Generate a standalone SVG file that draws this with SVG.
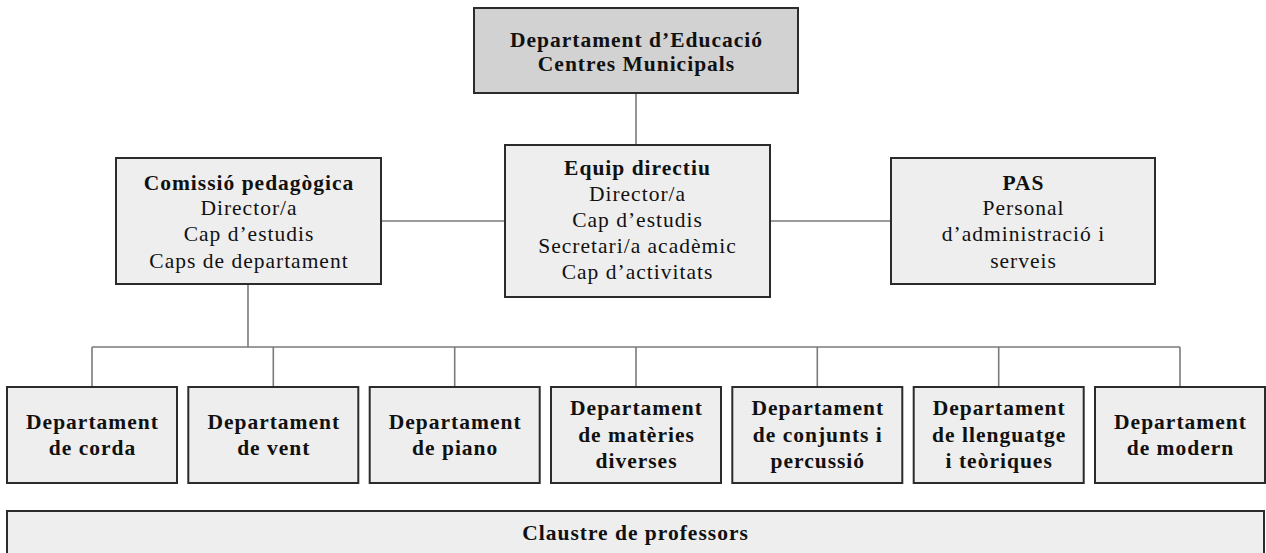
<svg xmlns="http://www.w3.org/2000/svg" width="1266" height="553" viewBox="0 0 1266 553">
<style>
.box{fill:#eeeeee;stroke:#2b2b2b;stroke-width:2}
.top{fill:#d2d2d2;stroke:#2b2b2b;stroke-width:2}
.t{font-family:"Liberation Serif","Times New Roman",serif;font-size:21.5px;letter-spacing:1px;fill:#111;text-anchor:middle}
.b{font-weight:bold}
.conn line{stroke:#7a7a7a;stroke-width:1.6}
</style>
<rect width="1266" height="553" fill="#fff"/>
<g class="conn" id="connectors">
<line x1="636" y1="93" x2="636" y2="145"/>
<line x1="381" y1="221" x2="505" y2="221"/>
<line x1="770" y1="221" x2="891" y2="221"/>
<line x1="248" y1="284" x2="248" y2="347"/>
<line x1="92" y1="347" x2="1180" y2="347"/>
<line x1="92" y1="347" x2="92" y2="387"/>
<line x1="273.3" y1="347" x2="273.3" y2="387"/>
<line x1="454.7" y1="347" x2="454.7" y2="387"/>
<line x1="636" y1="347" x2="636" y2="387"/>
<line x1="817.3" y1="347" x2="817.3" y2="387"/>
<line x1="998.7" y1="347" x2="998.7" y2="387"/>
<line x1="1180" y1="347" x2="1180" y2="387"/>
</g>
<g id="educacio">
<rect class="top" x="474" y="8" width="324" height="85"/>
<text class="t b" x="636.5" y="47">Departament d’Educació</text>
<text class="t b" x="636.5" y="71">Centres Municipals</text>
</g>
<g id="comissio">
<rect class="box" x="116" y="158" width="265" height="126"/>
<text class="t b" x="249" y="190">Comissió pedagògica</text>
<text class="t" x="249" y="215">Director/a</text>
<text class="t" x="249" y="241">Cap d’estudis</text>
<text class="t" x="249" y="268">Caps de departament</text>
</g>
<g id="equip">
<rect class="box" x="505" y="145" width="265" height="152"/>
<text class="t b" x="637.5" y="175">Equip directiu</text>
<text class="t" x="637.5" y="201">Director/a</text>
<text class="t" x="637.5" y="227">Cap d’estudis</text>
<text class="t" x="637.5" y="253">Secretari/a acadèmic</text>
<text class="t" x="637.5" y="279">Cap d’activitats</text>
</g>
<g id="pas">
<rect class="box" x="891" y="158" width="264" height="126"/>
<text class="t b" x="1023.5" y="190">PAS</text>
<text class="t" x="1023.5" y="215">Personal</text>
<text class="t" x="1023.5" y="241">d’administració i</text>
<text class="t" x="1023.5" y="268">serveis</text>
</g>
<g id="corda">
<rect class="box" x="7" y="387" width="170" height="96"/>
<text class="t b" x="92.5" y="429">Departament</text>
<text class="t b" x="92.5" y="455">de corda</text>
</g>
<g id="vent">
<rect class="box" x="188.3" y="387" width="170" height="96"/>
<text class="t b" x="273.8" y="429">Departament</text>
<text class="t b" x="273.8" y="455">de vent</text>
</g>
<g id="piano">
<rect class="box" x="369.7" y="387" width="170" height="96"/>
<text class="t b" x="455.2" y="429">Departament</text>
<text class="t b" x="455.2" y="455">de piano</text>
</g>
<g id="materies">
<rect class="box" x="551" y="387" width="170" height="96"/>
<text class="t b" x="636.5" y="415">Departament</text>
<text class="t b" x="636.5" y="442">de matèries</text>
<text class="t b" x="636.5" y="468">diverses</text>
</g>
<g id="conjunts">
<rect class="box" x="732.3" y="387" width="170" height="96"/>
<text class="t b" x="817.8" y="415">Departament</text>
<text class="t b" x="817.8" y="442">de conjunts i</text>
<text class="t b" x="817.8" y="468">percussió</text>
</g>
<g id="llenguatge">
<rect class="box" x="913.7" y="387" width="170" height="96"/>
<text class="t b" x="999.2" y="415">Departament</text>
<text class="t b" x="999.2" y="442">de llenguatge</text>
<text class="t b" x="999.2" y="468">i teòriques</text>
</g>
<g id="modern">
<rect class="box" x="1095" y="387" width="170" height="96"/>
<text class="t b" x="1180.5" y="429">Departament</text>
<text class="t b" x="1180.5" y="455">de modern</text>
</g>
<g id="claustre">
<rect class="box" x="7" y="511" width="1257" height="50"/>
<text class="t b" x="635.5" y="540">Claustre de professors</text>
</g>
</svg>
